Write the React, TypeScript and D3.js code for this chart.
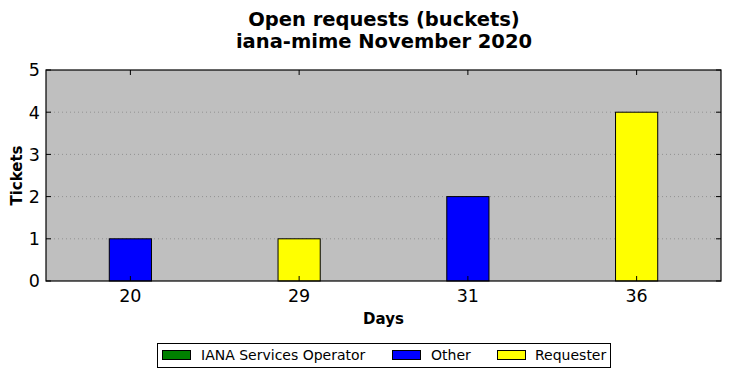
import React from "react";
import * as d3 from "d3";

const categories = ["20", "29", "31", "36"];
const seriesNames = ["IANA Services Operator", "Other", "Requester"];
const seriesColors = ["#008000", "#0000ff", "#ffff00"];
const iana = [0, 0, 0, 0];
const other = [1, 0, 2, 0];
const requester = [0, 1, 0, 4];
const yTicks = [0, 1, 2, 3, 4, 5];

const W = 731, H = 378;
const L = 46, R = 721, T = 70, B = 281;
const FONT = "DejaVu Sans, sans-serif";

export default function App() {
  const x = d3.scaleBand().domain(categories).range([L, R]).padding(0);
  const y = d3.scaleLinear().domain([0, 5]).range([B, T]);
  const bw = x.bandwidth() * 0.25;
  const all = [iana, other, requester];
  const bars: any[] = [];
  categories.forEach((c, i) => {
    let base = 0;
    all.forEach((s, si) => {
      const v = s[i];
      if (v > 0) {
        const cx = x(c)! + x.bandwidth() / 2;
        bars.push(
          <rect key={c + si} x={cx - bw / 2} y={y(base + v)} width={bw} height={y(base) - y(base + v)}
            fill={seriesColors[si]} stroke="#000" strokeWidth={1} />
        );
        base += v;
      }
    });
  });
  const legendItems = [
    { x: 162, tx: 201 },
    { x: 392, tx: 431 },
    { x: 497, tx: 535 },
  ];
  return (
    <svg width={W} height={H} style={{ position: "absolute", left: 0, top: 0 }} fontFamily={FONT}>
      <rect width={W} height={H} fill="#fff" />
      <text x={(L + R) / 2 + 0.5} y={26} textAnchor="middle" fontSize={19.5} fontWeight="bold">Open requests (buckets)</text>
      <text x={(L + R) / 2 + 0.5} y={48} textAnchor="middle" fontSize={19.5} fontWeight="bold">iana-mime November 2020</text>
      <rect x={L} y={T} width={R - L} height={B - T} fill="#bfbfbf" />
      {yTicks.slice(1, -1).map((t) => (
        <line key={"g" + t} x1={L} x2={R} y1={y(t)} y2={y(t)} stroke="#888" strokeWidth={1} strokeDasharray="1,3" opacity={0.8} />
      ))}
      {bars}
      {yTicks.map((t) => (
        <g key={"y" + t}>
          <line x1={L} x2={L + 5} y1={y(t)} y2={y(t)} stroke="#000" />
          <line x1={R - 5} x2={R} y1={y(t)} y2={y(t)} stroke="#000" />
          <text x={L - 6} y={y(t)} dy="0.36em" textAnchor="end" fontSize={17.5}>{t}</text>
        </g>
      ))}
      {categories.map((c) => {
        const cx = x(c)! + x.bandwidth() / 2;
        return (
          <g key={"x" + c}>
            <line x1={cx} x2={cx} y1={T} y2={T + 5} stroke="#000" />
            <line x1={cx} x2={cx} y1={B - 5} y2={B} stroke="#000" />
            <text x={cx} y={B + 21} textAnchor="middle" fontSize={17.5}>{c}</text>
          </g>
        );
      })}
      <rect x={L} y={T} width={R - L} height={B - T} fill="none" stroke="#000" strokeWidth={1.2} />
      <text x={(L + R) / 2} y={324} textAnchor="middle" fontSize={15} fontWeight="bold">Days</text>
      <text transform={`translate(22,${(T + B) / 2}) rotate(-90)`} textAnchor="middle" fontSize={15} fontWeight="bold">Tickets</text>
      <rect x={157.5} y={343.5} width={453} height={24} fill="#fff" stroke="#000" strokeWidth={1} />
      {seriesNames.map((n, i) => (
        <g key={n}>
          <rect x={legendItems[i].x + 0.5} y={350.5} width={28} height={9} fill={seriesColors[i]} stroke="#000" />
          <text x={legendItems[i].tx} y={360} fontSize={14}>{n}</text>
        </g>
      ))}
    </svg>
  );
}
